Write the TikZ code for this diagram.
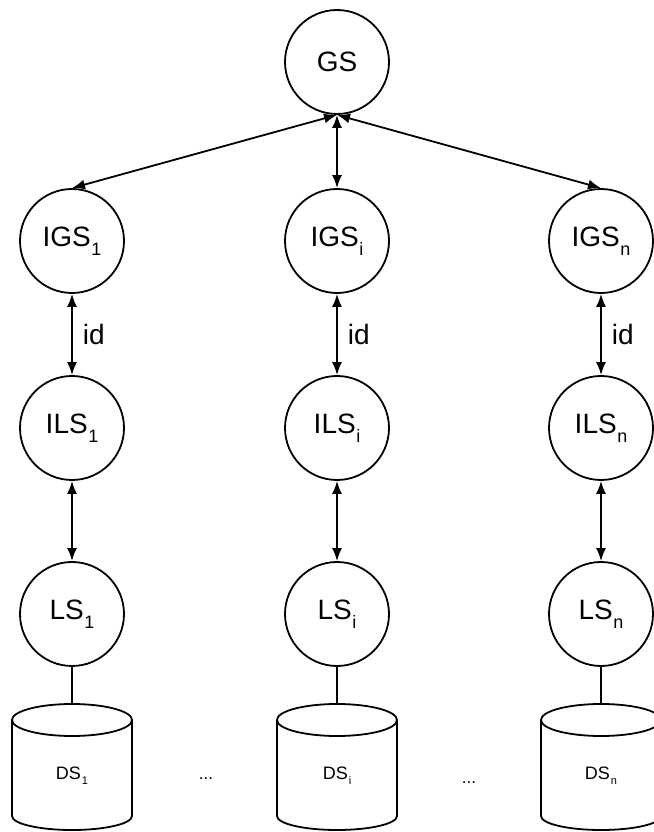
\documentclass[tikz,border=0pt]{standalone}
\usepackage{fontspec}
\setmainfont{Liberation Sans}
\usetikzlibrary{arrows.meta}
% name with a lowered subscript, as set inside the server circles
\newcommand{\srv}[2]{#1\kern0.5pt\raisebox{-9pt}{\fontsize{18}{18}\selectfont #2}}
% data store label with its small subscript
\newcommand{\dsl}[1]{DS\kern1pt\raisebox{-5pt}{\fontsize{11}{11}\selectfont #1}}
\begin{document}
\begin{tikzpicture}[x=1pt,y=1pt,
  server/.style={circle,draw,line width=1.8pt,minimum size=104pt,inner sep=0pt,
                 font=\fontsize{28}{28}\selectfont},
  link/.style={line width=1.8pt,{Latex[length=13pt,width=10pt]}-{Latex[length=13pt,width=10pt]}},
  plain/.style={line width=1.8pt},
  idlabel/.style={midway,right=10pt,inner sep=0pt,font=\fontsize{28}{28}\selectfont},
  dstext/.style={font=\fontsize{18}{18}\selectfont},
  dots/.style={font=\fontsize{17}{17}\selectfont,anchor=base}]
\useasboundingbox (0,0) rectangle (653,832);

% global server
\node[server] (gs) at (337,770) {GS};

% one column per site: intermediate global, intermediate local, local server, data store
\foreach \c/\s/\k in {72/1/a, 337/i/b, 601/n/c}{
  \node[server] (igs\k) at (\c,591) {\srv{IGS}{\s}};
  \node[server] (ils\k) at (\c,404) {\srv{ILS}{\s}};
  \node[server] (ls\k)  at (\c,218) {\srv{LS}{\s}};
  \coordinate (ds\k) at (\c,128);

  \draw[link] (igs\k) -- (ils\k) node[idlabel] {id};
  \draw[link] (ils\k) -- (ls\k);
  \draw[plain] (ls\k) -- (ds\k);

  % data store drawn as a cylinder
  \draw[plain] (\c,112) ellipse [x radius=60, y radius=16];
  \draw[plain] (\c-60,112) -- (\c-60,16)
     arc [start angle=180, end angle=360, x radius=60, y radius=14]
     -- (\c+60,112);
  \node[dstext] (dstxt\k) at (\c,56) {\dsl{\s}};

  \draw[link] (gs.south) -- (igs\k.north);
}

\node[dots] (gap1) at (206,52) {...};
\node[dots] (gap2) at (469,48) {...};
\end{tikzpicture}
\end{document}
